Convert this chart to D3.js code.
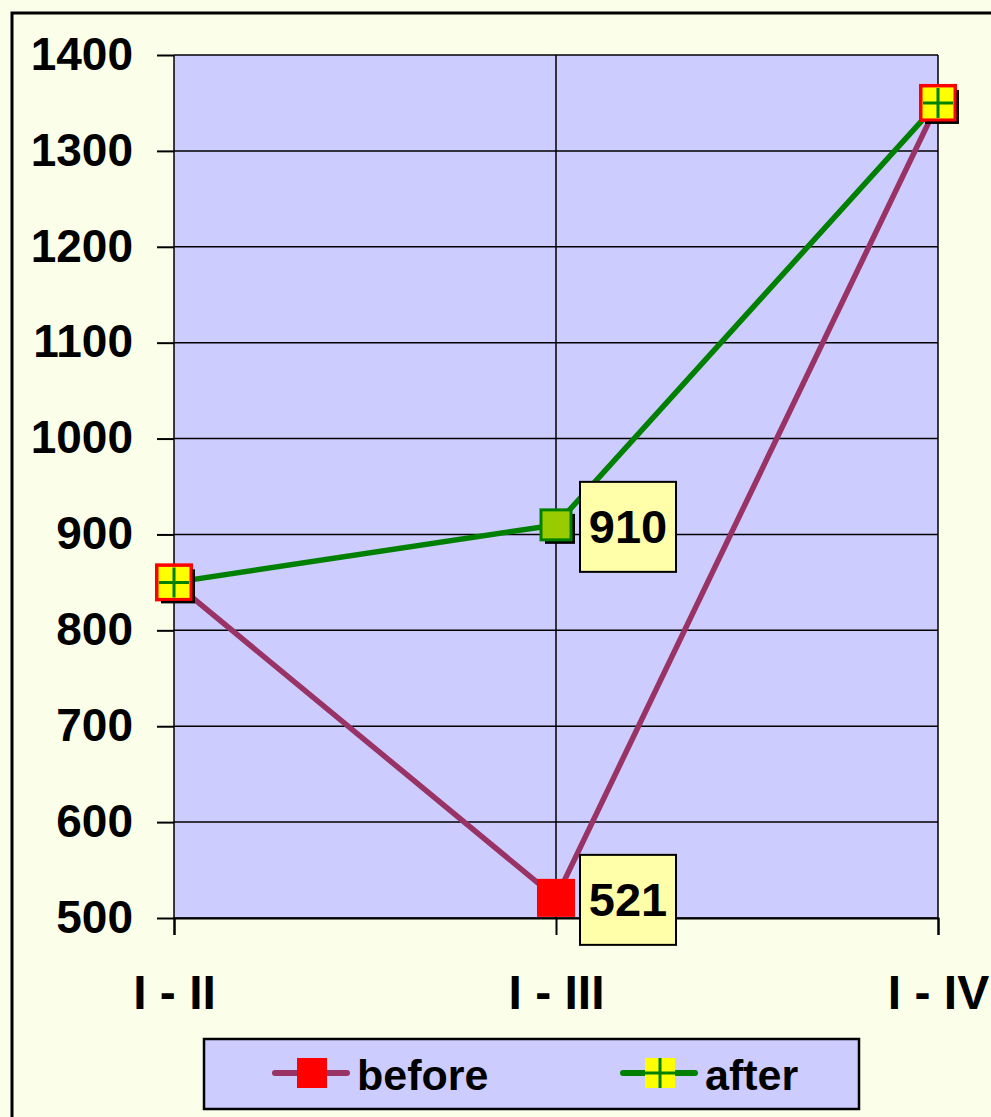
<!DOCTYPE html>
<html>
<head>
<meta charset="utf-8">
<script src="https://cdn.jsdelivr.net/npm/d3@7"></script>
<style>
	body {margin:0; background:#fbffe9;}
	text {font-family: "Liberation Sans", Arial, sans-serif; font-weight:bold;}
</style>
</head>
<body>
<script>
// before / after line chart

var categories = ['I - II', 'I - III', 'I - IV'];
var before = [850, 521, 1350];
var after = [850, 910, 1350];
var y_ticks = [500, 600, 700, 800, 900, 1000, 1100, 1200, 1300, 1400];
var labelled = [{series:'after', i:1}, {series:'before', i:1}];

var W = 991, H = 1117;
var pad = {left:174, top:55, right:53, bottom:199};
var cw = W - pad.left - pad.right, ch = H - pad.top - pad.bottom;

var svg = d3.select('body').append('svg').attr('width', W).attr('height', H);

// chart area
svg.append('rect').attr('x', 12).attr('y', 13).attr('width', W+20).attr('height', H+20)
	.attr('fill', '#fbffe9').attr('stroke', 'black').attr('stroke-width', 3);

var x = d3.scalePoint().domain(categories).range([0, cw]);
var y = d3.scaleLinear().domain([500, 1400]).range([ch, 0]);

var g = svg.append('g').attr('transform', 'translate('+pad.left+','+pad.top+')');

g.append('rect').attr('width', cw).attr('height', ch).attr('fill', '#ccccff');

// grid
g.selectAll('line.hg').data(y_ticks).enter().append('line').attr('class', 'hg')
	.attr('x1', 0).attr('x2', cw).attr('y1', function (d) {return y(d);}).attr('y2', function (d) {return y(d);})
	.attr('stroke', 'black').attr('stroke-width', 1.5);
g.selectAll('line.vg').data(categories).enter().append('line').attr('class', 'vg')
	.attr('x1', function (d) {return x(d);}).attr('x2', function (d) {return x(d);})
	.attr('y1', 0).attr('y2', ch)
	.attr('stroke', 'black').attr('stroke-width', 1.5);

// axes
var ya = g.append('g').call(d3.axisLeft(y).tickValues(y_ticks).tickFormat(d3.format('d')).tickSize(17).tickPadding(24));
ya.select('.domain').remove();
ya.selectAll('line').attr('stroke-width', 2);
ya.selectAll('text').attr('font-size', 46).attr('fill', 'black').attr('dy', '0.31em');

var xa = g.append('g').attr('transform', 'translate(0,'+ch+')')
	.call(d3.axisBottom(x).tickSize(17).tickPadding(40));
xa.select('.domain').attr('stroke-width', 2);
xa.selectAll('line').attr('stroke-width', 2);
xa.selectAll('text').attr('font-size', 48).attr('fill', 'black');

// lines
var line = d3.line().x(function (d, i) {return x(categories[i]);}).y(function (d) {return y(d);});
g.append('path').datum(before).attr('d', line).attr('fill', 'none')
	.attr('stroke', '#993366').attr('stroke-width', 5.5);
g.append('path').datum(after).attr('d', line).attr('fill', 'none')
	.attr('stroke', '#008000').attr('stroke-width', 5.5);

// before markers
var bs = 38;
g.selectAll('rect.bm').data(before).enter().append('rect').attr('class', 'bm')
	.attr('x', function (d, i) {return x(categories[i])-bs/2;})
	.attr('y', function (d) {return y(d)-bs/2;})
	.attr('width', bs).attr('height', bs).attr('fill', 'red');

// after markers (middle point has its own format)
function asz(i) {return i==1 ? 30 : 34;}
var am = g.selectAll('g.am').data(after).enter().append('g').attr('class', 'am')
	.attr('transform', function (d, i) {return 'translate('+x(categories[i])+','+y(d)+')';});
am.append('rect')
	.attr('x', function (d, i) {return -asz(i)/2+4;}).attr('y', function (d, i) {return -asz(i)/2+4;})
	.attr('width', function (d, i) {return asz(i);}).attr('height', function (d, i) {return asz(i);})
	.attr('fill', 'black');
am.append('rect')
	.attr('x', function (d, i) {return -asz(i)/2;}).attr('y', function (d, i) {return -asz(i)/2;})
	.attr('width', function (d, i) {return asz(i);}).attr('height', function (d, i) {return asz(i);})
	.attr('fill', function (d, i) {return i==1 ? '#99cc00' : 'yellow';})
	.attr('stroke', function (d, i) {return i==1 ? '#008000' : 'red';})
	.attr('stroke-width', 3);
am.filter(function (d, i) {return i!=1;}).append('path')
	.attr('d', 'M-15,0H15M0,-15V15')
	.attr('stroke', '#008000').attr('stroke-width', 3);

// data labels
var lbl = g.selectAll('g.lbl').data(labelled).enter().append('g').attr('class', 'lbl')
	.attr('transform', function (d) {
		var v = d.series=='after' ? after[d.i] : before[d.i];
		return 'translate('+(x(categories[d.i])+24)+','+(y(v)-43)+')';
	});
lbl.append('rect').attr('width', 96).attr('height', 90).attr('fill', '#ffffaa')
	.attr('stroke', 'black').attr('stroke-width', 2);
lbl.append('text').attr('x', 48).attr('y', 61).attr('text-anchor', 'middle').attr('font-size', 47)
	.text(function (d) {return d.series=='after' ? after[d.i] : before[d.i];});

// legend
var leg = svg.append('g').attr('transform', 'translate(204,1039)');
leg.append('rect').attr('width', 655).attr('height', 70).attr('fill', '#ccccff')
	.attr('stroke', 'black').attr('stroke-width', 2.5);
var items = [{name:'before', col:'#993366', x:71}, {name:'after', col:'#008000', x:419}];
var li = leg.selectAll('g.li').data(items).enter().append('g').attr('class', 'li')
	.attr('transform', function (d) {return 'translate('+d.x+',34)';});
li.append('line').attr('x1', 0).attr('x2', 72).attr('stroke', function (d) {return d.col;})
	.attr('stroke-width', 6).attr('stroke-linecap', 'round');
li.append('rect').attr('x', 22).attr('y', -15).attr('width', 30).attr('height', 30)
	.attr('fill', function (d) {return d.name=='before' ? 'red' : 'yellow';});
li.filter(function (d) {return d.name=='after';}).append('path')
	.attr('d', 'M22,0H52M37,-15V15').attr('stroke', '#008000').attr('stroke-width', 3);
li.append('text').attr('x', 82).attr('y', 17).attr('font-size', 43).text(function (d) {return d.name;});
</script>
</body>
</html>
